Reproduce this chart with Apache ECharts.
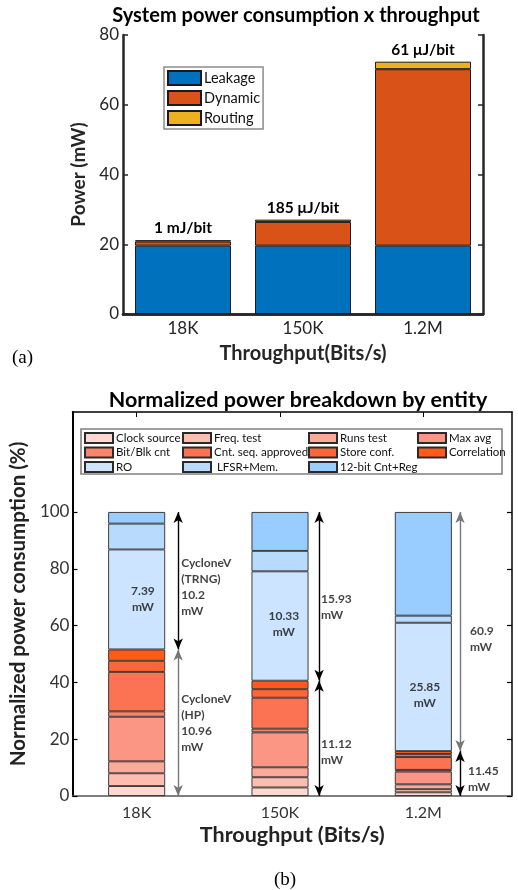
<!DOCTYPE html>
<html>
<head>
<meta charset="utf-8">
<script src="https://cdn.jsdelivr.net/npm/echarts@6/dist/echarts.min.js"></script>
<style>
html,body{margin:0;padding:0;background:#fff;}
#c{width:518px;height:890px;}
</style>
</head>
<body>
<div id="c"></div>
<script>
// ---------- Data: panel (a) ----------
const categories = ['18K', '150K', '1.2M'];
const leakage = [19.6, 19.6, 19.6];
const dynamic = [1.2, 6.8, 50.6];
const routing = [0.36, 0.65, 2.15];
const efficiency = ['1 mJ/bit', '185 μJ/bit', '61 μJ/bit'];

// ---------- Data: panel (b) (normalized %) ----------
const entities = ['Clock source', 'Freq. test', 'Runs test', 'Max avg',
  'Bit/Blk cnt', 'Cnt. seq. approved', 'Store conf.', 'Correlation',
  'RO', ' LFSR+Mem.', '12-bit Cnt+Reg'];
const clockSource = [3.5, 3.0, 1.3];
const freqTest = [4.5, 3.6, 1.1];
const runsTest = [4.2, 3.5, 1.7];
const maxAvg = [15.7, 12.3, 4.5];
const bitBlkCnt = [1.9, 1.3, 0.6];
const cntSeqApproved = [13.9, 10.9, 4.5];
const storeConf = [3.9, 3.0, 1.1];
const correlation = [4.0, 3.0, 1.0];
const ro = [35.2, 38.5, 45.2];
const lfsrMem = [9.1, 7.2, 2.5];
const cnt12Reg = [4.1, 13.7, 36.5];
const trngPower = ['10.2', '15.93', '60.9'];
const hpPower = ['10.96', '11.12', '11.45'];
const roPower = ['7.39', '10.33', '25.85'];
const yTicksB = [0, 20, 40, 60, 80, 100];

const entityValues = [clockSource, freqTest, runsTest, maxAvg, bitBlkCnt,
  cntSeqApproved, storeConf, correlation, ro, lfsrMem, cnt12Reg];
const entityColors = ['#FFD9D1', '#FDBDB1', '#FCA99A', '#FA9683', '#F9836B',
  '#FB7352', '#FD663A', '#FF5A19', '#CCE4FF', '#B8DAFD', '#99CCFF'];

const FONT = 'Lato';

// derived sums
const hpTotal = categories.map((c, i) =>
  [clockSource, freqTest, runsTest, maxAvg, bitBlkCnt, cntSeqApproved, storeConf, correlation]
    .reduce((s, a) => s + a[i], 0));
const roTop = categories.map((c, i) => hpTotal[i] + ro[i]);

const chart = echarts.init(document.getElementById('c'), null, {renderer: 'canvas'});

const axisDark = '#262626';
const seriesA = [
  {name: 'Leakage', data: leakage, color: '#0072BD'},
  {name: 'Dynamic', data: dynamic, color: '#D95319'},
  {name: 'Routing', data: routing, color: '#EDB120'}
].map((s, k) => ({
  name: s.name, type: 'bar', stack: 'a', xAxisIndex: 0, yAxisIndex: 0,
  barWidth: '80%', data: s.data,
  itemStyle: {color: s.color, borderColor: '#1a1a1a', borderWidth: 1},
  label: k === 2 ? {
    show: true, position: 'top', distance: 4,
    formatter: p => efficiency[p.dataIndex],
    fontFamily: FONT, fontWeight: 'bold', fontSize: 15.5, color: '#000'
  } : {show: false},
  animation: false
}));

// bars of panel (b): category axes on grid 2 (xAxis 4/5, yAxis 4)
const seriesB = entities.map((name, k) => ({
  name: name, type: 'bar', stack: 'b', xAxisIndex: 4, yAxisIndex: 4,
  barWidth: 57,
  data: entityValues[k],
  itemStyle: {color: entityColors[k], borderColor: '#2a2a2a', borderWidth: 0.9},
  animation: false
}));

// category-unit scale of the frame grid (value axis where category i sits at i+1)
const ARROW_DX = 0.25;
const annData = [];
categories.forEach((c, i) => {
  const x = i + 1;
  annData.push({value: [x, (hpTotal[i] + roTop[i]) / 2], name: roPower[i] + '\nmW',
    label: {position: 'inside', align: 'center', offset: [0, [0, -2, 8][i]]}});
  annData.push({value: [x + ARROW_DX, (hpTotal[i] + 100) / 2],
    name: (i === 0 ? 'CycloneV\n(TRNG)\n' : '') + trngPower[i] + '\nmW',
    label: {position: 'right', distance: [3, 2, 10][i], offset: [0, [6, 11, 8][i]]}});
  annData.push({value: [x + ARROW_DX, hpTotal[i] / 2],
    name: (i === 0 ? 'CycloneV\n(HP)\n' : '') + hpPower[i] + '\nmW',
    label: {position: 'right', distance: [3, 2, 8][i], offset: [0, [0, 14, 6][i]]}});
});
const arrowColorsUp = ['#000', '#000', '#777'];
const arrowColorsDn = ['#777', '#000', '#000'];
const arrowLines = [];
categories.forEach((c, i) => {
  const x = i + 1 + ARROW_DX;
  arrowLines.push([{coord: [x, 100], lineStyle: {color: arrowColorsUp[i]}}, {coord: [x, hpTotal[i]]}]);
  arrowLines.push([{coord: [x, hpTotal[i]], lineStyle: {color: arrowColorsDn[i]}}, {coord: [x, 0]}]);
});

const annSeries = {
  name: 'annotations', type: 'scatter', xAxisIndex: 2, yAxisIndex: 2,
  symbolSize: 0, silent: true, z: 10, animation: false,
  data: annData,
  label: {show: true, formatter: p => p.name, fontFamily: FONT, fontWeight: 'bold',
    fontSize: 12, lineHeight: 16, color: '#111'},
  markLine: {
    silent: true, animation: false,
    symbol: ['arrow', 'arrow'], symbolSize: [7, 11],
    lineStyle: {type: 'solid', width: 1.4, color: '#000'},
    label: {show: false},
    data: arrowLines
  }
};

const legendB = (items, left) => ({
  orient: 'vertical', left: left, top: 432, padding: 0,
  itemWidth: 28, itemHeight: 10, itemGap: 2.5, icon: 'rect',
  data: items, selectedMode: false,
  textStyle: {fontFamily: FONT, fontSize: 11.5, lineHeight: 12, color: '#111', padding: [0, 0, 0, -2]}
});

const GB = {left: 65, top: 412, height: 384};
const catPx = 430 / 3;               // category band width in px
const frameMax = 0.5 + 447 / catPx;  // frame value axis extent in category units

const option = {
  backgroundColor: '#fff',
  textStyle: {fontFamily: FONT},
  title: [
    {text: 'System power consumption x throughput', left: 291, top: 1, textAlign: 'center',
      textStyle: {fontFamily: FONT, fontWeight: 'bold', fontSize: 20, color: '#000'}},
    {text: 'Normalized power breakdown by entity', left: 293, top: 384, textAlign: 'center',
      textStyle: {fontFamily: FONT, fontWeight: 'bold', fontSize: 21.5, color: '#000'}},
    {text: '(a)', left: 7, top: 344, textStyle: {fontFamily: 'Liberation Serif', fontWeight: 'normal', fontSize: 19, color: '#000'}},
    {text: '(b)', left: 280, top: 866, textAlign: 'center', textStyle: {fontFamily: 'Liberation Serif', fontWeight: 'normal', fontSize: 19, color: '#000'}}
  ],
  legend: [
    {orient: 'vertical', left: 164, top: 67, data: ['Leakage', 'Dynamic', 'Routing'],
      icon: 'rect', itemWidth: 33, itemHeight: 14, itemGap: 4, selectedMode: false,
      padding: [3, 3, 3, 3], borderColor: '#8c8c8c', borderWidth: 1.5, backgroundColor: '#fff',
      textStyle: {fontFamily: FONT, fontSize: 14.5, color: '#111', padding: [0, 0, 0, -2]}},
    legendB(['Clock source', 'Bit/Blk cnt', 'RO'], 84),
    legendB(['Freq. test', 'Cnt. seq. approved', ' LFSR+Mem.'], 182),
    legendB(['Runs test', 'Store conf.', '12-bit Cnt+Reg'], 308),
    legendB(['Max avg', 'Correlation'], 417)
  ],
  graphic: [
    {type: 'rect', shape: {x: 81, y: 429, width: 421, height: 45}, z: 0,
      style: {fill: '#fff', stroke: '#808080', lineWidth: 1.6}}
  ],
  grid: [
    {left: 123, top: 35, width: 360, height: 279},
    {left: GB.left, top: GB.top, width: 447, height: GB.height},
    {left: GB.left, top: GB.top, width: 430, height: GB.height}
  ],
  xAxis: [
    {type: 'category', gridIndex: 0, data: categories, position: 'bottom',
      axisLine: {lineStyle: {color: axisDark, width: 2.5}},
      axisTick: {inside: true, alignWithLabel: true, length: 5, lineStyle: {width: 1.5, color: axisDark}},
      axisLabel: {fontFamily: FONT, fontSize: 17, color: axisDark, margin: 6},
      name: 'Throughput(Bits/s)', nameLocation: 'middle', nameGap: 30,
      nameTextStyle: {fontFamily: FONT, fontWeight: 'bold', fontSize: 20, color: axisDark}},
    {type: 'category', gridIndex: 0, data: categories, position: 'top',
      axisLine: {lineStyle: {color: axisDark, width: 2.5}},
      axisTick: {inside: true, alignWithLabel: true, length: 5, lineStyle: {width: 1.5, color: axisDark}},
      axisLabel: {show: false}},
    // frame of panel (b)
    {type: 'value', gridIndex: 1, min: 0.5, max: frameMax, position: 'bottom',
      splitLine: {show: false},
      axisLine: {onZero: false, lineStyle: {color: '#555', width: 1.5}},
      axisTick: {show: false}, axisLabel: {show: false},
      name: 'Throughput (Bits/s)', nameLocation: 'middle', nameGap: 28,
      nameTextStyle: {fontFamily: FONT, fontWeight: 'bold', fontSize: 21.5, color: '#222'}},
    {type: 'value', gridIndex: 1, min: 0.5, max: frameMax, position: 'top',
      splitLine: {show: false},
      axisLine: {onZero: false, lineStyle: {color: '#000', width: 1.5}},
      axisTick: {show: false}, axisLabel: {show: false}},
    // bar axes of panel (b)
    {type: 'category', gridIndex: 2, data: categories, position: 'bottom',
      axisLine: {show: false}, axisTick: {show: false},
      axisLabel: {fontFamily: FONT, fontSize: 16, color: '#333', margin: 9}},
    {type: 'category', gridIndex: 2, data: categories, position: 'top',
      axisLine: {show: false},
      axisTick: {show: true, inside: true, alignWithLabel: true, length: 5, lineStyle: {color: '#000', width: 1}},
      axisLabel: {show: false}}
  ],
  yAxis: [
    {type: 'value', gridIndex: 0, min: 0, max: 80, interval: 20, position: 'left',
      splitLine: {show: false},
      axisLine: {show: true, lineStyle: {color: axisDark, width: 2.5}},
      axisTick: {show: true, inside: true, length: 5, lineStyle: {width: 1.5, color: axisDark}},
      axisLabel: {fontFamily: FONT, fontSize: 17, color: axisDark, margin: 4},
      name: 'Power (mW)', nameLocation: 'middle', nameGap: 25,
      nameTextStyle: {fontFamily: FONT, fontWeight: 'bold', fontSize: 19, color: axisDark}},
    {type: 'value', gridIndex: 0, min: 0, max: 80, interval: 20, position: 'right',
      splitLine: {show: false},
      axisLine: {show: true, lineStyle: {color: axisDark, width: 2.5}},
      axisTick: {show: true, inside: true, length: 5, lineStyle: {width: 1.5, color: axisDark}},
      axisLabel: {show: false}},
    {type: 'value', gridIndex: 1, min: 0, max: 135.2, position: 'left',
      splitLine: {show: false},
      axisLine: {show: true, onZero: false, lineStyle: {color: '#000', width: 2}},
      axisTick: {show: true, inside: true, length: 5, customValues: yTicksB, lineStyle: {color: '#000', width: 1.2}},
      axisLabel: {customValues: yTicksB, fontFamily: FONT, fontSize: 17, color: '#333', margin: 3},
      name: 'Normalized power consumption (%)', nameLocation: 'middle', nameGap: 23,
      nameTextStyle: {fontFamily: FONT, fontWeight: 'bold', fontSize: 20.5, color: '#222'}},
    {type: 'value', gridIndex: 1, min: 0, max: 135.2, position: 'right',
      splitLine: {show: false},
      axisLine: {show: true, onZero: false, lineStyle: {color: '#000', width: 1.5}},
      axisTick: {show: true, inside: true, length: 5, customValues: yTicksB, lineStyle: {color: '#000', width: 1.2}},
      axisLabel: {show: false}},
    {type: 'value', gridIndex: 2, min: 0, max: 135.2, show: false}
  ],
  series: [...seriesA, ...seriesB, annSeries]
};
chart.setOption(option);
</script>
</body>
</html>
